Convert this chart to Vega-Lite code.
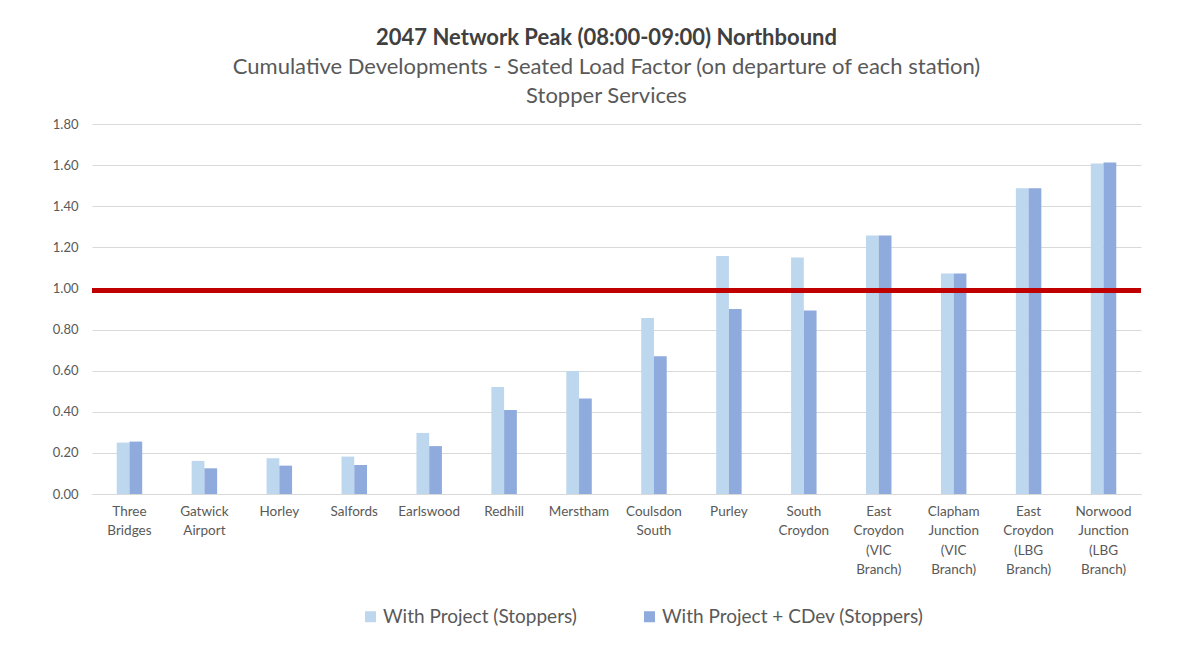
{
  "$schema": "https://vega.github.io/schema/vega-lite/v6.json",
  "width": 1049,
  "height": 370,
  "autosize": {"type": "none"},
  "padding": {"left": 92, "top": 124, "right": 62, "bottom": 155},
  "background": "white",
  "title": {
    "text": "2047 Network Peak (08:00-09:00) Northbound",
    "subtitle": ["Cumulative Developments - Seated Load Factor (on departure of each station)", "Stopper Services"],
    "anchor": "middle",
    "frame": "group",
    "dx": -10,
    "offset": 10,
    "font": "Lato",
    "fontSize": 22,
    "fontWeight": "bold",
    "color": "#404040",
    "subtitleFont": "Lato",
    "subtitleFontSize": 22,
    "subtitleColor": "#595959",
    "subtitleLineHeight": 29.5,
    "subtitlePadding": 7
  },
  "data": {
    "values": [
      {"station": "Three Bridges", "series": "With Project (Stoppers)", "value": 0.25},
      {"station": "Three Bridges", "series": "With Project + CDev (Stoppers)", "value": 0.255},
      {"station": "Gatwick Airport", "series": "With Project (Stoppers)", "value": 0.161},
      {"station": "Gatwick Airport", "series": "With Project + CDev (Stoppers)", "value": 0.125},
      {"station": "Horley", "series": "With Project (Stoppers)", "value": 0.174},
      {"station": "Horley", "series": "With Project + CDev (Stoppers)", "value": 0.138},
      {"station": "Salfords", "series": "With Project (Stoppers)", "value": 0.182},
      {"station": "Salfords", "series": "With Project + CDev (Stoppers)", "value": 0.141},
      {"station": "Earlswood", "series": "With Project (Stoppers)", "value": 0.297},
      {"station": "Earlswood", "series": "With Project + CDev (Stoppers)", "value": 0.233},
      {"station": "Redhill", "series": "With Project (Stoppers)", "value": 0.52},
      {"station": "Redhill", "series": "With Project + CDev (Stoppers)", "value": 0.409},
      {"station": "Merstham", "series": "With Project (Stoppers)", "value": 0.598},
      {"station": "Merstham", "series": "With Project + CDev (Stoppers)", "value": 0.465},
      {"station": "Coulsdon South", "series": "With Project (Stoppers)", "value": 0.856},
      {"station": "Coulsdon South", "series": "With Project + CDev (Stoppers)", "value": 0.67},
      {"station": "Purley", "series": "With Project (Stoppers)", "value": 1.158},
      {"station": "Purley", "series": "With Project + CDev (Stoppers)", "value": 0.9},
      {"station": "South Croydon", "series": "With Project (Stoppers)", "value": 1.15},
      {"station": "South Croydon", "series": "With Project + CDev (Stoppers)", "value": 0.893},
      {"station": "East Croydon (VIC Branch)", "series": "With Project (Stoppers)", "value": 1.257},
      {"station": "East Croydon (VIC Branch)", "series": "With Project + CDev (Stoppers)", "value": 1.257},
      {"station": "Clapham Junction (VIC Branch)", "series": "With Project (Stoppers)", "value": 1.073},
      {"station": "Clapham Junction (VIC Branch)", "series": "With Project + CDev (Stoppers)", "value": 1.073},
      {"station": "East Croydon (LBG Branch)", "series": "With Project (Stoppers)", "value": 1.488},
      {"station": "East Croydon (LBG Branch)", "series": "With Project + CDev (Stoppers)", "value": 1.488},
      {"station": "Norwood Junction (LBG Branch)", "series": "With Project (Stoppers)", "value": 1.608},
      {"station": "Norwood Junction (LBG Branch)", "series": "With Project + CDev (Stoppers)", "value": 1.613}
    ]
  },
  "layer": [
    {
      "mark": {"type": "bar"},
      "encoding": {
        "x": {
          "field": "station",
          "type": "nominal",
          "sort": null,
          "scale": {"paddingInner": 0.66, "paddingOuter": 0.33},
          "axis": {
            "title": null,
            "labelAngle": 0,
            "labelExpr": "split(datum.label, ' ')",
            "labelFont": "Lato",
            "labelFontSize": 13.5,
            "labelLineHeight": 19.5,
            "labelColor": "#595959",
            "labelPadding": 10,
            "ticks": false,
            "domainColor": "#D9D9D9",
            "domainWidth": 1,
            "labelLimit": 200
          }
        },
        "xOffset": {"field": "series", "type": "nominal", "sort": ["With Project (Stoppers)", "With Project + CDev (Stoppers)"]},
        "y": {
          "field": "value",
          "type": "quantitative",
          "scale": {"domain": [0, 1.8]},
          "axis": {
            "title": null,
            "values": [0, 0.2, 0.4, 0.6, 0.8, 1.0, 1.2, 1.4, 1.6, 1.8],
            "format": ".2f",
            "domain": false,
            "ticks": false,
            "gridColor": "#D9D9D9",
            "gridWidth": 1.2,
            "labelFont": "Lato",
            "labelFontSize": 13,
            "labelColor": "#595959",
            "labelPadding": 14
          }
        },
        "color": {
          "field": "series",
          "type": "nominal",
          "scale": {
            "domain": ["With Project (Stoppers)", "With Project + CDev (Stoppers)"],
            "range": ["#BDD7EE", "#8FAADC"]
          },
          "legend": {
            "title": null,
            "orient": "none",
            "direction": "horizontal",
            "legendX": 269,
            "legendY": 483,
            "symbolType": "square",
            "symbolSize": 121,
            "symbolStrokeWidth": 0,
            "labelFont": "Lato",
            "labelFontSize": 19,
            "labelColor": "#595959",
            "labelOffset": 3,
            "labelLimit": 400,
            "columnPadding": 63
          }
        }
      }
    },
    {
      "data": {"values": [{"threshold": 0.99}]},
      "mark": {"type": "rule", "color": "#C00000", "strokeWidth": 5},
      "encoding": {
        "y": {"field": "threshold", "type": "quantitative"}
      }
    }
  ],
  "config": {
    "view": {"stroke": null}
  }
}
